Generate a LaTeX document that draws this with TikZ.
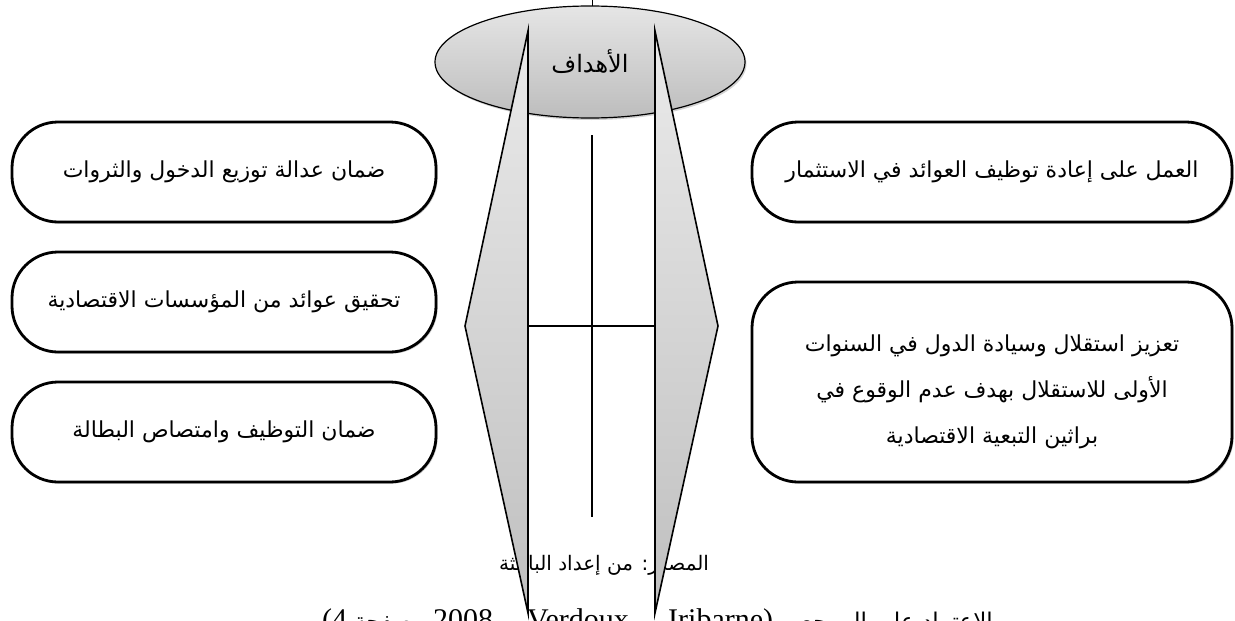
\documentclass[tikz,border=0pt]{standalone}
\usepackage{fontspec}
\setmainfont{Liberation Serif}
\newfontfamily\arabicfont[Script=Arabic]{DejaVu Sans}
\TeXXeTstate=1
\usetikzlibrary{shapes.geometric,shadows}
\begin{document}
\begin{tikzpicture}[x=1pt,y=-1pt,
  goalbox/.style={draw, line width=2.8pt, rounded corners=46pt, fill=white,
    inner sep=0pt, align=center,
    font=\arabicfont\fontsize{22}{46}\selectfont,
    drop shadow={shadow xshift=1.6pt, shadow yshift=-1.6pt, fill=black!45}},
  boxtext/.style={inner sep=0pt, align=center,
    font=\arabicfont\fontsize{22}{46}\selectfont},
  reftext/.style={anchor=base west, inner sep=0pt, font=\fontsize{30}{32}\selectfont},
  refarabic/.style={inner sep=0pt, font=\arabicfont\fontsize{23}{26}\selectfont},
  strip/.style={draw, line width=1.6pt, line join=miter,
    top color=gray!16, bottom color=gray!50},
  axis/.style={draw, line width=1.8pt}]
\useasboundingbox (0,0) rectangle (1235,621);

% source lines under the strips
\begin{scope}
  \clip (0,0) rectangle (1235,621);
  \node[anchor=center, font=\arabicfont\fontsize{20}{24}\selectfont]
    (src) at (604,565) {\beginR المصدر: من إعداد الباحثة\endR};
  \node[reftext] (refa) at (322,629) {(4};
  \node[refarabic, anchor=base west] (refb) at (354,629) {\beginR صفحة\endR};
  \node[reftext] (refc) at (433,629) {2008,};
  \node[reftext] (refd) at (527,629) {Verdoux ,};
  \node[reftext] (refe) at (668,629) {Iribarne)};
  \node[refarabic, anchor=base east] (reff) at (1000,629) {\beginR بالاعتماد على المرجع\endR};
\end{scope}

% central oval
\node[ellipse, draw, line width=1.2pt, minimum width=310pt, minimum height=112pt,
  top color=gray!20, bottom color=gray!52,
  drop shadow={shadow xshift=1.5pt, shadow yshift=-2pt, fill=black!35},
  font=\arabicfont\fontsize{24}{28}\selectfont]
  (goals) at (590,62) {\beginR الأهداف\endR};
\coordinate (tickT) at (592,0);
\coordinate (tickB) at (592,6);
\draw[line width=1pt] (tickT) -- (tickB);

% left objectives
\node[goalbox, minimum width=424pt, minimum height=100pt] (l1) at (224,172)
  {\beginR ضمان عدالة توزيع الدخول والثروات\endR};
\node[goalbox, minimum width=424pt, minimum height=100pt] (l2) at (224,302)
  {\beginR تحقيق عوائد من المؤسسات الاقتصادية\endR};
\node[goalbox, minimum width=424pt, minimum height=100pt] (l3) at (224,432)
  {\beginR ضمان التوظيف وامتصاص البطالة\endR};

% right objectives
\node[goalbox, minimum width=480pt, minimum height=100pt] (r1) at (992,172)
  {\beginR العمل على إعادة توظيف العوائد في الاستثمار\endR};
\node[goalbox, minimum width=480pt, minimum height=200pt] (r2) at (992,382) {};
\node[boxtext] (r2t) at ([yshift=-10pt]r2.center)
  {\beginR تعزيز استقلال وسيادة الدول في السنوات\endR\\
   \beginR الأولى للاستقلال بهدف عدم الوقوع في\endR\\
   \beginR براثين التبعية الاقتصادية\endR};

% the two pointed strips
\coordinate (lt) at (528,31);
\coordinate (lp) at (465,326);
\coordinate (lb) at (528,613);
\coordinate (rt) at (655,31);
\coordinate (rp) at (718,326);
\coordinate (rb) at (655,613);
\path[strip] (lt) -- (lp) -- (lb) -- cycle;
\path[strip] (rt) -- (rp) -- (rb) -- cycle;

% cross between the strips
\coordinate (hl) at (528,326);
\coordinate (hr) at (655,326);
\coordinate (vt) at (592,135);
\coordinate (vb) at (592,517);
\draw[axis] (hl) -- (hr);
\draw[axis] (vt) -- (vb);
\end{tikzpicture}
\end{document}
